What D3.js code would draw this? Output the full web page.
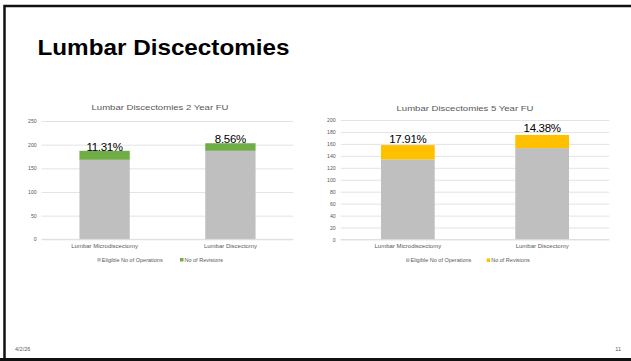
<!DOCTYPE html>
<html>
<head>
<meta charset="utf-8">
<script src="https://cdn.jsdelivr.net/npm/d3@7"></script>
<style>
html,body{margin:0;padding:0;background:#fff;}
svg{display:block;font-family:"Liberation Sans",Arial,Helvetica,sans-serif;}
</style>
</head>
<body>
<svg id="c" width="631" height="361"></svg>
<script>
const categories = ["Lumbar Microdiscectomy", "Lumbar Discectomy"];
const seriesNames = ["Eligible No of Operations", "No of Revisions"];
const eligible2yr = [168, 187];
const revisions2yr = [19, 16];
const eligible5yr = [134, 153];
const revisions5yr = [24, 22];
const ticks2yr = [0, 50, 100, 150, 200, 250];
const ticks5yr = [0, 20, 40, 60, 80, 100, 120, 140, 160, 180, 200];
const pageTitle = "Lumbar Discectomies";
const footerDate = "4/2/26";
const footerPage = "11";

const svg = d3.select("#c");

// slide frame
svg.append("rect").attr("x",0).attr("y",0).attr("width",631).attr("height",361).attr("fill","#fff");
svg.append("path").attr("d","M4.5,361 L4.5,6 L631,6").attr("fill","none").attr("stroke","#111").attr("stroke-width",2.5);
svg.append("line").attr("x1",0).attr("x2",631).attr("y1",359.5).attr("y2",359.5).attr("stroke","#111").attr("stroke-width",3);

svg.append("text").attr("x",37.5).attr("y",55).attr("font-size",22).attr("font-weight","bold")
  .attr("fill","#000").attr("textLength",252).attr("lengthAdjust","spacingAndGlyphs").text(pageTitle);
svg.append("text").attr("x",15).attr("y",351).attr("font-size",5.5).attr("fill","#595959").text(footerDate);
svg.append("text").attr("x",621).attr("y",351).attr("font-size",5.5).attr("fill","#595959").attr("text-anchor","end").text(footerPage);

function drawChart(cfg){
  const g = svg.append("g");
  const y = d3.scaleLinear().domain([0, cfg.max]).range([cfg.y0, cfg.y1]);
  const x = d3.scaleBand().domain(categories).range([cfg.x0, cfg.x1]).paddingInner(0.6).paddingOuter(0.3);

  // title
  g.append("text").attr("x",(cfg.titleX)).attr("y",cfg.titleY).attr("text-anchor","middle")
    .attr("font-size",7.5).attr("fill","#595959").attr("textLength",137).attr("lengthAdjust","spacingAndGlyphs").text(cfg.title);

  // gridlines + y labels
  const ya = d3.axisLeft(y).tickValues(cfg.ticks).tickSize(-(cfg.x1-cfg.x0)).tickPadding(5).tickFormat(d3.format("d"));
  const yg = g.append("g").attr("transform",`translate(${cfg.x0},0)`).call(ya);
  yg.select(".domain").remove();
  yg.selectAll(".tick line").attr("stroke","#d9d9d9").attr("stroke-width",0.75);
  yg.selectAll(".tick text").attr("font-size",5.2).attr("fill","#595959").attr("font-family","Liberation Sans,Arial,sans-serif");

  // stacked bars
  const rows = categories.map((c,i)=>({cat:c, a:cfg.eligible[i], b:cfg.revisions[i]}));
  const stack = d3.stack().keys(["a","b"])(rows);
  const colors = ["#bfbfbf", cfg.color];
  stack.forEach((layer,li)=>{
    g.append("g").selectAll("rect").data(layer).join("rect")
      .attr("x",d=>x(d.data.cat)).attr("width",x.bandwidth())
      .attr("y",d=>y(d[1])).attr("height",d=>y(d[0])-y(d[1]))
      .attr("fill",colors[li]);
  });

  // baseline
  g.append("line").attr("x1",cfg.x0).attr("x2",cfg.x1).attr("y1",y(0)).attr("y2",y(0)).attr("stroke","#d9d9d9").attr("stroke-width",0.75);

  // percentage labels
  const pf = d3.format(".2%");
  g.append("g").selectAll("text").data(rows).join("text")
    .attr("x",d=>x(d.cat)+x.bandwidth()/2).attr("y",d=>y(d.a+d.b)-cfg.labOff)
    .attr("text-anchor","middle").attr("font-size",11.5).attr("fill","#000")
    .attr("letter-spacing",-0.3)
    .text(d=>pf(d.b/d.a));

  // x category labels
  const xa = d3.axisBottom(x).tickSize(0).tickPadding(0);
  const xg = g.append("g").attr("transform",`translate(0,${y(0)+8.5})`).call(xa);
  xg.select(".domain").remove();
  xg.selectAll(".tick text").attr("font-size",6).attr("fill","#595959").attr("dy",0)
    .attr("font-family","Liberation Sans,Arial,sans-serif");

  // legend
  const lg = g.append("g");
  const items = [{n:seriesNames[0],c:colors[0],x:cfg.legX[0]},{n:seriesNames[1],c:colors[1],x:cfg.legX[1]}];
  items.forEach(it=>{
    lg.append("rect").attr("x",it.x).attr("y",cfg.legY-3.5).attr("width",3.5).attr("height",3.5).attr("fill",it.c);
    lg.append("text").attr("x",it.x+4.5).attr("y",cfg.legY).attr("font-size",5.5).attr("fill","#595959").text(it.n);
  });
}

drawChart({title:"Lumbar Discectomies 2 Year FU", titleX:160, titleY:110,
  max:250, ticks:ticks2yr, y0:239.3, y1:121, x0:41.7, x1:293.3,
  eligible:eligible2yr, revisions:revisions2yr, color:"#70ad47",
  legX:[97.3,180], legY:261.5, labOff:0});

drawChart({title:"Lumbar Discectomies 5 Year FU", titleX:465, titleY:110.5,
  max:200, ticks:ticks5yr, y0:239.5, y1:120, x0:340.7, x1:609.3,
  eligible:eligible5yr, revisions:revisions5yr, color:"#ffc000",
  legX:[406,486.7], legY:262, labOff:2.5});
</script>
</body>
</html>
